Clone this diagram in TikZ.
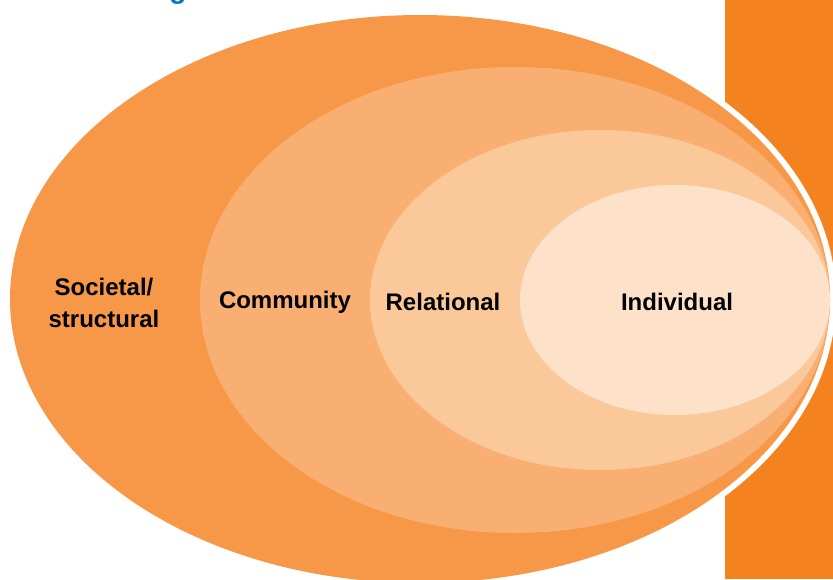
\documentclass[tikz,border=0pt]{standalone}
\usepackage{fontspec}
\setmainfont{Liberation Sans}
\usetikzlibrary{shapes.geometric}
\definecolor{bandorange}{HTML}{F4821F}
\definecolor{ringA}{HTML}{F79848}
\definecolor{ringB}{HTML}{F9AF72}
\definecolor{ringC}{HTML}{FBC899}
\definecolor{ringD}{HTML}{FDE2C9}
\definecolor{titleblue}{HTML}{0077C8}
\tikzset{
  ring/.style={ellipse, inner sep=0pt, draw=none},
  label/.style={font=\fontsize{24}{32}\selectfont\bfseries, text=black, align=center}
}
\begin{document}
\begin{tikzpicture}[x=1pt, y=-1pt]
  \useasboundingbox (0,0) rectangle (833,579);
  \fill[white] (0,0) rectangle (833,579);
  % title descender peeking in from above
  \node[anchor=base, text=titleblue, font=\fontsize{28}{32}\selectfont\bfseries, inner sep=0pt] (title) at (178,-2) {g};
  % orange side band
  \fill[bandorange] (725,0) rectangle (833,579);
  % white halo separating the rings from the band
  \node[ring, fill=white, minimum width=832pt, minimum height=580pt] (halo) at (420,299) {};
  % nested rings
  \node[ring, fill=ringA, minimum width=820pt, minimum height=568pt] (societal) at (420,299) {};
  \node[ring, fill=ringB, minimum width=630pt, minimum height=466pt] (community) at (515,300) {};
  \node[ring, fill=ringC, minimum width=460pt, minimum height=340pt] (relational) at (600,300) {};
  \node[ring, fill=ringD, minimum width=310pt, minimum height=230pt] (individual) at (675,300) {};
  % ring labels
  \node[label] (lsoc) at (104,303) {Societal/\\structural};
  \node[label] (lcom) at (285,302) {Community};
  \node[label] (lrel) at (443,302) {Relational};
  \node[label] (lind) at (677,302) {Individual};
\end{tikzpicture}
\end{document}
